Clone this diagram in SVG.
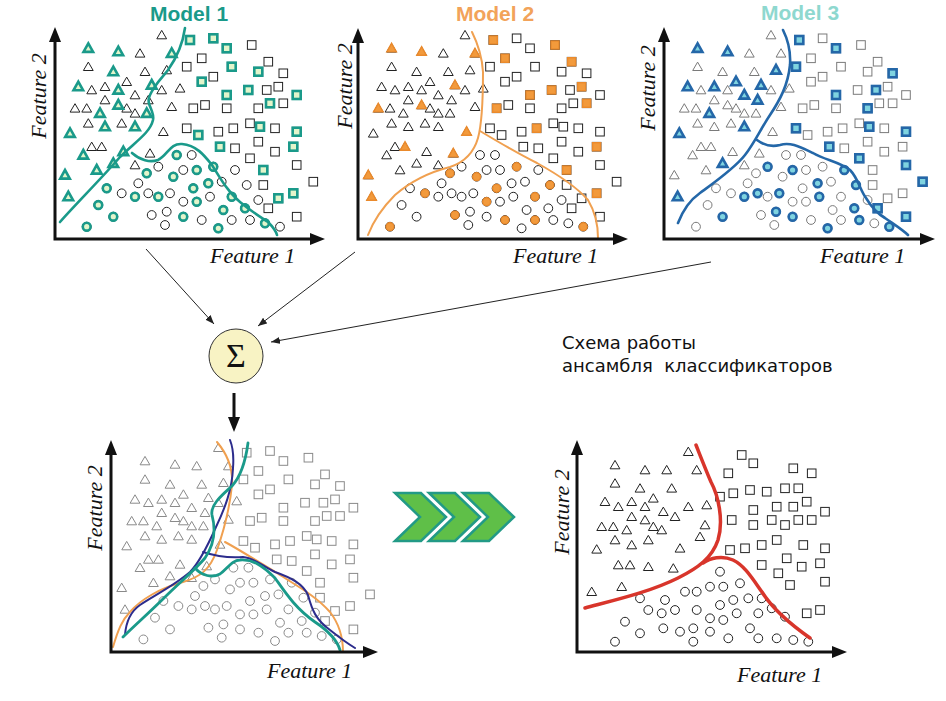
<svg xmlns="http://www.w3.org/2000/svg" width="946" height="701" viewBox="0 0 946 701">
<style>
.ax{fill:none;stroke:#111;stroke-width:3;marker-start:url(#ah);marker-end:url(#ah)}
.lbl{font-family:"Liberation Serif","Times New Roman",serif;font-style:italic;font-size:22px;fill:#111}
.ttl{font-family:"Liberation Sans",Arial,sans-serif;font-weight:bold;font-size:21px;text-anchor:middle}
.p{fill:none;stroke:#222;stroke-width:1}
.pg{fill:none;stroke:#8a8a8a;stroke-width:1}
.pl{fill:none;stroke:#7a7a7a;stroke-width:1}
.h1{fill:#e3f5cb;stroke:#1a9a8a;stroke-width:2.6}
.h2{fill:#f29a3c;stroke:#ea8a2c;stroke-width:1.4}
.h3{fill:#7fd4e0;stroke:#2467a8;stroke-width:2.6}
.cv{fill:none;stroke-linecap:round;stroke-linejoin:round}
.con{fill:none;stroke:#222;stroke-width:1;marker-end:url(#sm)}
.ru{font-family:"DejaVu Sans",Verdana,sans-serif;font-size:18px;fill:#111;white-space:pre}
.chev{fill:#5fbf48;stroke:#229a86;stroke-width:2.5;stroke-linejoin:miter}
</style>
<defs>
<marker id="ah" viewBox="0 0 15 12" refX="7" refY="6" markerWidth="15" markerHeight="12" markerUnits="userSpaceOnUse" orient="auto-start-reverse"><path d="M0,0L15,6L0,12Z" fill="#111"/></marker>
<marker id="sm" viewBox="0 0 9 7" refX="9" refY="3.5" markerWidth="9" markerHeight="7" markerUnits="userSpaceOnUse" orient="auto"><path d="M0,0L9,3.5L0,7Z" fill="#222"/></marker>
<path id="t" d="M0,-4.6L4.9,3.8H-4.9Z"/>
<rect id="s" x="-4.3" y="-4.3" width="8.6" height="8.6"/>
<circle id="c" r="4.4"/>
<path id="T" d="M0,-5L4.8,3.6H-4.8Z"/>
<rect id="S" x="-4" y="-4" width="8" height="8"/>
<circle id="C" r="3.9"/>
<g id="base">
<use href="#t" x="88.3" y="48.3"/><use href="#t" x="118.3" y="51.7"/><use href="#t" x="113.3" y="71.7"/><use href="#t" x="78.3" y="86.7"/><use href="#t" x="118.3" y="90"/><use href="#t" x="118.3" y="105"/><use href="#t" x="100" y="113.3"/><use href="#t" x="105" y="126.7"/><use href="#t" x="70" y="133.3"/><use href="#t" x="135" y="126.7"/><use href="#t" x="83.3" y="155"/><use href="#t" x="96.7" y="170"/><use href="#t" x="65" y="175"/><use href="#t" x="68.3" y="196.7"/><use href="#t" x="123.3" y="151.7"/><use href="#t" x="113.3" y="163.3"/><use href="#t" x="151.7" y="85"/><use href="#t" x="146.7" y="113.3"/><use href="#t" x="171.7" y="53.3"/><use href="#t" x="161.7" y="35"/><use href="#t" x="140" y="53.3"/><use href="#t" x="88.3" y="66.7"/><use href="#t" x="145" y="71.7"/><use href="#t" x="166.7" y="70"/><use href="#t" x="126.7" y="81.7"/><use href="#t" x="105" y="86.7"/><use href="#t" x="91.7" y="90"/><use href="#t" x="135" y="95"/><use href="#t" x="105" y="100"/><use href="#t" x="148.3" y="100"/><use href="#t" x="75" y="108.3"/><use href="#t" x="86.7" y="108.3"/><use href="#t" x="126.7" y="108.3"/><use href="#t" x="135" y="113.3"/><use href="#t" x="171.7" y="106.7"/><use href="#t" x="180" y="88.3"/><use href="#t" x="161.7" y="90"/><use href="#t" x="88.3" y="123.3"/><use href="#t" x="121.7" y="123.3"/><use href="#t" x="163.3" y="131.7"/><use href="#t" x="91.7" y="146.7"/><use href="#t" x="101.7" y="146.7"/><use href="#t" x="150" y="153.3"/><use href="#t" x="135" y="165"/>
<use href="#s" x="190" y="40"/><use href="#s" x="213.3" y="38.3"/><use href="#s" x="226.7" y="48.3"/><use href="#s" x="231.7" y="66.7"/><use href="#s" x="258.3" y="71.7"/><use href="#s" x="201.7" y="81.7"/><use href="#s" x="226.7" y="95"/><use href="#s" x="248.3" y="90"/><use href="#s" x="270" y="103.3"/><use href="#s" x="296.7" y="95"/><use href="#s" x="260" y="126.7"/><use href="#s" x="198.3" y="135"/><use href="#s" x="220" y="146.7"/><use href="#s" x="296.7" y="131.7"/><use href="#s" x="293.3" y="146.7"/><use href="#s" x="263.3" y="170"/><use href="#s" x="293.3" y="193.3"/><use href="#s" x="278.3" y="198.3"/><use href="#s" x="201.7" y="58.3"/><use href="#s" x="186.7" y="66.7"/><use href="#s" x="213.3" y="76.7"/><use href="#s" x="251.7" y="45"/><use href="#s" x="268.3" y="61.7"/><use href="#s" x="283.3" y="73.3"/><use href="#s" x="266.7" y="90"/><use href="#s" x="278.3" y="86.7"/><use href="#s" x="193.3" y="108.3"/><use href="#s" x="205" y="105"/><use href="#s" x="226.7" y="108.3"/><use href="#s" x="258.3" y="108.3"/><use href="#s" x="283.3" y="103.3"/><use href="#s" x="186.7" y="128.3"/><use href="#s" x="218.3" y="131.7"/><use href="#s" x="233.3" y="128.3"/><use href="#s" x="250" y="123.3"/><use href="#s" x="275" y="128.3"/><use href="#s" x="235" y="148.3"/><use href="#s" x="258.3" y="141.7"/><use href="#s" x="275" y="151.7"/><use href="#s" x="250" y="158.3"/><use href="#s" x="296.7" y="165"/><use href="#s" x="263.3" y="185"/><use href="#s" x="313.3" y="181.7"/><use href="#s" x="268.3" y="208.3"/><use href="#s" x="296.7" y="216.7"/>
<use href="#c" x="176.7" y="155"/><use href="#c" x="146.7" y="173.3"/><use href="#c" x="173.3" y="176.7"/><use href="#c" x="196.7" y="170"/><use href="#c" x="213.3" y="166.7"/><use href="#c" x="106.7" y="188.3"/><use href="#c" x="135" y="196.7"/><use href="#c" x="158.3" y="196.7"/><use href="#c" x="193.3" y="188.3"/><use href="#c" x="208.3" y="183.3"/><use href="#c" x="98.3" y="205"/><use href="#c" x="113.3" y="216.7"/><use href="#c" x="86.7" y="226.7"/><use href="#c" x="196.7" y="201.7"/><use href="#c" x="183.3" y="216.7"/><use href="#c" x="223.3" y="210"/><use href="#c" x="231.7" y="196.7"/><use href="#c" x="245" y="208.3"/><use href="#c" x="218.3" y="228.3"/><use href="#c" x="265" y="223.3"/><use href="#c" x="191.7" y="155"/><use href="#c" x="158.3" y="166.7"/><use href="#c" x="183.3" y="170"/><use href="#c" x="138.3" y="183.3"/><use href="#c" x="121.7" y="193.3"/><use href="#c" x="148.3" y="193.3"/><use href="#c" x="170" y="193.3"/><use href="#c" x="221.7" y="181.7"/><use href="#c" x="235" y="170"/><use href="#c" x="246.7" y="185"/><use href="#c" x="210" y="196.7"/><use href="#c" x="183.3" y="201.7"/><use href="#c" x="166.7" y="211.7"/><use href="#c" x="258.3" y="200"/><use href="#c" x="201.7" y="220"/><use href="#c" x="231.7" y="220"/><use href="#c" x="250" y="220"/><use href="#c" x="280" y="226.7"/><use href="#c" x="165" y="225"/><use href="#c" x="151.7" y="215"/>
</g>
</defs>
<rect width="946" height="701" fill="#fff"/>

<g id="model1">
<use href="#base" class="p"/>
<g class="h1">
<use href="#T" x="88.3" y="48.3"/><use href="#T" x="118.3" y="51.7"/><use href="#T" x="113.3" y="71.7"/><use href="#T" x="78.3" y="86.7"/><use href="#T" x="118.3" y="90"/><use href="#T" x="118.3" y="105"/><use href="#T" x="100" y="113.3"/><use href="#T" x="105" y="126.7"/><use href="#T" x="70" y="133.3"/><use href="#T" x="135" y="126.7"/><use href="#T" x="83.3" y="155"/><use href="#T" x="96.7" y="170"/><use href="#T" x="65" y="175"/><use href="#T" x="68.3" y="196.7"/><use href="#T" x="123.3" y="151.7"/><use href="#T" x="113.3" y="163.3"/><use href="#T" x="151.7" y="85"/><use href="#T" x="146.7" y="113.3"/><use href="#T" x="171.7" y="53.3"/>
<use href="#S" x="190" y="40"/><use href="#S" x="213.3" y="38.3"/><use href="#S" x="226.7" y="48.3"/><use href="#S" x="231.7" y="66.7"/><use href="#S" x="258.3" y="71.7"/><use href="#S" x="201.7" y="81.7"/><use href="#S" x="226.7" y="95"/><use href="#S" x="248.3" y="90"/><use href="#S" x="270" y="103.3"/><use href="#S" x="296.7" y="95"/><use href="#S" x="260" y="126.7"/><use href="#S" x="198.3" y="135"/><use href="#S" x="220" y="146.7"/><use href="#S" x="296.7" y="131.7"/><use href="#S" x="293.3" y="146.7"/><use href="#S" x="263.3" y="170"/><use href="#S" x="293.3" y="193.3"/><use href="#S" x="278.3" y="198.3"/>
<use href="#C" x="176.7" y="155"/><use href="#C" x="146.7" y="173.3"/><use href="#C" x="173.3" y="176.7"/><use href="#C" x="196.7" y="170"/><use href="#C" x="213.3" y="166.7"/><use href="#C" x="106.7" y="188.3"/><use href="#C" x="135" y="196.7"/><use href="#C" x="158.3" y="196.7"/><use href="#C" x="193.3" y="188.3"/><use href="#C" x="208.3" y="183.3"/><use href="#C" x="98.3" y="205"/><use href="#C" x="113.3" y="216.7"/><use href="#C" x="86.7" y="226.7"/><use href="#C" x="196.7" y="201.7"/><use href="#C" x="183.3" y="216.7"/><use href="#C" x="223.3" y="210"/><use href="#C" x="231.7" y="196.7"/><use href="#C" x="245" y="208.3"/><use href="#C" x="218.3" y="228.3"/><use href="#C" x="265" y="223.3"/>
</g>
<g class="cv" stroke="#1a9a8a" stroke-width="2.6">
<path d="M60,222 C72,208 100,180 120,157 C135,142 150,133 153,120 C155,110 145,105 150,95 C155,84 162,78 168,70 C178,56 183,42 185,28"/>
<path d="M132,153 C140,160 150,163 158,160 C168,155 170,143 182,144 C196,145 204,155 212,165 C220,178 228,192 240,202 C252,212 262,218 268,222 C273,227 276,231 277,235"/>
</g>
<path class="ax" d="M55,35 V239 H317"/>
<text class="ttl" x="189" y="21" fill="#1a9a8a">Model 1</text>
<text class="lbl" x="210" y="263">Feature 1</text>
<text class="lbl" text-anchor="middle" transform="translate(46,96) rotate(-90)">Feature 2</text>
</g>

<g id="model2">
<use href="#base" class="p" transform="translate(303.3,0)"/>
<g class="h2" transform="translate(303.3,0)">
<use href="#T" x="88.3" y="48.3"/><use href="#T" x="118.3" y="51.7"/><use href="#T" x="171.7" y="53.3"/><use href="#T" x="151.7" y="85"/><use href="#T" x="118.3" y="105"/><use href="#T" x="75" y="108.3"/><use href="#T" x="163.3" y="131.7"/><use href="#T" x="101.7" y="146.7"/><use href="#T" x="150" y="153.3"/><use href="#T" x="65" y="175"/><use href="#T" x="68.3" y="196.7"/>
<use href="#S" x="190" y="40"/><use href="#S" x="201.7" y="58.3"/><use href="#S" x="251.7" y="45"/><use href="#S" x="268.3" y="61.7"/><use href="#S" x="278.3" y="86.7"/><use href="#S" x="248.3" y="90"/><use href="#S" x="226.7" y="95"/><use href="#S" x="283.3" y="103.3"/><use href="#S" x="193.3" y="108.3"/><use href="#S" x="233.3" y="128.3"/><use href="#S" x="293.3" y="146.7"/><use href="#S" x="263.3" y="170"/><use href="#S" x="293.3" y="193.3"/>
<use href="#C" x="146.7" y="173.3"/><use href="#C" x="173.3" y="176.7"/><use href="#C" x="213.3" y="166.7"/><use href="#C" x="121.7" y="193.3"/><use href="#C" x="193.3" y="188.3"/><use href="#C" x="246.7" y="185"/><use href="#C" x="183.3" y="201.7"/><use href="#C" x="231.7" y="196.7"/><use href="#C" x="86.7" y="226.7"/><use href="#C" x="151.7" y="215"/><use href="#C" x="201.7" y="220"/><use href="#C" x="231.7" y="220"/><use href="#C" x="280" y="226.7"/>
</g>
<g class="cv" stroke="#f0a050" stroke-width="2">
<path d="M368,235 C373,222 380,210 395,195 C410,182 430,172 450,167 C465,162 474,152 478,138 C483,120 483,90 483,72 C482,55 477,42 472,32"/>
<path d="M480,131 C495,140 515,152 537,163 C555,173 575,185 588,200 C597,215 598,230 598,238"/>
</g>
<path class="ax" d="M358,36 V239 H620"/>
<text class="ttl" x="495" y="21" fill="#f2a35a">Model 2</text>
<text class="lbl" x="513" y="263">Feature 1</text>
<text class="lbl" text-anchor="middle" transform="translate(352,86) rotate(-90)">Feature 2</text>
</g>

<g id="model3">
<use href="#base" class="pl" transform="translate(609.3,0)"/>
<g class="h3" transform="translate(609.3,0)">
<use href="#T" x="88.3" y="48.3"/><use href="#T" x="118.3" y="51.7"/><use href="#T" x="166.7" y="70"/><use href="#T" x="78.3" y="86.7"/><use href="#T" x="105" y="86.7"/><use href="#T" x="126.7" y="81.7"/><use href="#T" x="151.7" y="85"/><use href="#T" x="135" y="95"/><use href="#T" x="148.3" y="100"/><use href="#T" x="100" y="113.3"/><use href="#T" x="135" y="126.7"/><use href="#T" x="70" y="133.3"/><use href="#T" x="113.3" y="163.3"/><use href="#T" x="68.3" y="196.7"/>
<use href="#S" x="190" y="40"/><use href="#S" x="226.7" y="48.3"/><use href="#S" x="186.7" y="66.7"/><use href="#S" x="283.3" y="73.3"/><use href="#S" x="266.7" y="90"/><use href="#S" x="226.7" y="95"/><use href="#S" x="258.3" y="108.3"/><use href="#S" x="260" y="126.7"/><use href="#S" x="186.7" y="128.3"/><use href="#S" x="296.7" y="131.7"/><use href="#S" x="220" y="146.7"/><use href="#S" x="250" y="158.3"/><use href="#S" x="296.7" y="165"/><use href="#S" x="313.3" y="181.7"/><use href="#S" x="268.3" y="208.3"/><use href="#S" x="296.7" y="216.7"/>
<use href="#C" x="158.3" y="166.7"/><use href="#C" x="183.3" y="170"/><use href="#C" x="135" y="196.7"/><use href="#C" x="148.3" y="193.3"/><use href="#C" x="170" y="193.3"/><use href="#C" x="208.3" y="183.3"/><use href="#C" x="235" y="170"/><use href="#C" x="246.7" y="185"/><use href="#C" x="210" y="196.7"/><use href="#C" x="113.3" y="216.7"/><use href="#C" x="166.7" y="211.7"/><use href="#C" x="183.3" y="216.7"/><use href="#C" x="245" y="208.3"/><use href="#C" x="250" y="220"/><use href="#C" x="218.3" y="228.3"/><use href="#C" x="280" y="226.7"/>
</g>
<g class="cv" stroke="#2467a8" stroke-width="2.6">
<path d="M678,223 C683,210 690,200 700,193 C715,182 735,168 745,155 C755,142 760,130 770,115 C780,100 788,85 790,65 C791,50 787,38 783,30"/>
<path d="M757,140 C765,146 772,147 780,145 C790,142 798,146 813,153 C825,160 840,162 850,170 C858,178 860,190 866,198 C872,208 878,214 885,218 C895,225 903,230 908,235"/>
</g>
<path class="ax" d="M664,35 V239 H927"/>
<text class="ttl" x="800" y="20" fill="#8ed8cf">Model 3</text>
<text class="lbl" x="820" y="263">Feature 1</text>
<text class="lbl" text-anchor="middle" transform="translate(655,88) rotate(-90)">Feature 2</text>
</g>

<g id="sum">
<circle cx="236" cy="356" r="27" fill="#f8f3c4" stroke="#333" stroke-width="1"/>
<text x="236" y="367" text-anchor="middle" font-family="'Liberation Serif','Times New Roman',serif" font-size="34" fill="#111">Σ</text>
</g>

<g id="ensemble">
<use href="#base" class="pg" transform="translate(56.7,412.7)"/>
<g class="cv" stroke-width="2">
<path stroke="#f0a050" d="M113,647 C118,630 122,620 130,612 C140,600 160,588 183,582 C200,577 210,570 217,550 C224,530 230,505 232,485 C233,470 228,455 217,442"/>
<path stroke="#f0a050" d="M225,542 C240,550 255,560 277,573 C295,585 315,595 330,612 C340,625 343,640 343,652"/>
<path stroke="#2c2c8c" d="M125,635 C126,622 130,612 140,605 C155,595 175,585 190,572 C200,562 208,545 216,527 C225,508 232,490 233,468 C234,455 232,445 230,440"/>
<path stroke="#2c2c8c" d="M203,552 C215,556 230,558 243,557 C255,558 262,566 275,572 C292,578 303,584 308,595 C312,610 316,620 330,630 C340,638 350,645 355,648"/>
<path stroke="#1a9a8a" stroke-width="2.8" d="M123,637 C135,625 150,612 165,597 C180,582 195,570 205,558 C214,545 216,530 212,515 C210,505 222,495 232,486 C242,475 246,458 248,443"/>
<path stroke="#1a9a8a" stroke-width="2.8" d="M195,568 C202,576 212,578 220,574 C228,568 232,560 240,560 C252,559 262,565 275,578 C285,592 295,608 315,622 C330,632 337,640 340,650"/>
</g>
<path class="ax" d="M111,448 V652 H370"/>
<text class="lbl" x="267" y="678">Feature 1</text>
<text class="lbl" text-anchor="middle" transform="translate(102,508) rotate(-90)">Feature 2</text>
</g>

<g id="chevrons">
<polygon class="chev" points="395,493 421,493 446,517 421,541 395,541 420,517"/>
<polygon class="chev" points="429,493 455,493 480,517 455,541 429,541 454,517"/>
<polygon class="chev" points="463,493 489,493 514,517 489,541 463,541 488,517"/>
</g>

<g id="result">
<g class="p" stroke="#333">
<use href="#t" x="688.3" y="451.7"/><use href="#t" x="615" y="465"/><use href="#t" x="645" y="470"/><use href="#t" x="666.7" y="470"/><use href="#t" x="696.7" y="470"/><use href="#t" x="615" y="483.3"/><use href="#t" x="640" y="488.3"/><use href="#t" x="671.7" y="488.3"/><use href="#t" x="653.3" y="498.3"/><use href="#t" x="605" y="501.7"/><use href="#t" x="618.3" y="506.7"/><use href="#t" x="631.7" y="501.7"/><use href="#t" x="645" y="506.7"/><use href="#t" x="663.3" y="511.7"/><use href="#t" x="688.3" y="506.7"/><use href="#t" x="706.7" y="505"/><use href="#t" x="631.7" y="516.7"/><use href="#t" x="675" y="516.7"/><use href="#t" x="601.7" y="526.7"/><use href="#t" x="613.3" y="526.7"/><use href="#t" x="626.7" y="530"/><use href="#t" x="645" y="520"/><use href="#t" x="653.3" y="526.7"/><use href="#t" x="661.7" y="530"/><use href="#t" x="705" y="525"/><use href="#t" x="615" y="540"/><use href="#t" x="631.7" y="545"/><use href="#t" x="648.3" y="540"/><use href="#t" x="700" y="536.7"/><use href="#t" x="596.7" y="549.3"/><use href="#t" x="680" y="548.3"/><use href="#t" x="618.3" y="565"/><use href="#t" x="630" y="565"/><use href="#t" x="648.3" y="566.7"/><use href="#t" x="673.3" y="568.3"/><use href="#t" x="591.7" y="591.7"/><use href="#t" x="621.7" y="586.7"/>
<use href="#s" x="741.7" y="455"/><use href="#s" x="753.3" y="463.3"/><use href="#s" x="728.3" y="473.3"/><use href="#s" x="793.3" y="468.3"/><use href="#s" x="811.7" y="473.3"/><use href="#s" x="720" y="496.7"/><use href="#s" x="733.3" y="493.3"/><use href="#s" x="750" y="490"/><use href="#s" x="766.7" y="491.7"/><use href="#s" x="785" y="488.3"/><use href="#s" x="798.3" y="488.3"/><use href="#s" x="776.7" y="506.7"/><use href="#s" x="793.3" y="506.7"/><use href="#s" x="806.7" y="501.7"/><use href="#s" x="825" y="511.7"/><use href="#s" x="753.3" y="510"/><use href="#s" x="731.7" y="520"/><use href="#s" x="753.3" y="525"/><use href="#s" x="771.7" y="520"/><use href="#s" x="785" y="525"/><use href="#s" x="798.3" y="520"/><use href="#s" x="811.7" y="520"/><use href="#s" x="730" y="550"/><use href="#s" x="745" y="548.3"/><use href="#s" x="761.7" y="545"/><use href="#s" x="776.7" y="540"/><use href="#s" x="803.3" y="545"/><use href="#s" x="825" y="548.3"/><use href="#s" x="761.7" y="565"/><use href="#s" x="778.3" y="573.3"/><use href="#s" x="786.7" y="558.3"/><use href="#s" x="801.7" y="566.7"/><use href="#s" x="820" y="563.3"/><use href="#s" x="790" y="585"/><use href="#s" x="825" y="581.7"/><use href="#s" x="806.7" y="613.3"/><use href="#s" x="820" y="610"/>
<use href="#c" x="720" y="571.7"/><use href="#c" x="685" y="591.7"/><use href="#c" x="696.7" y="591.7"/><use href="#c" x="710" y="586.7"/><use href="#c" x="723.3" y="586.7"/><use href="#c" x="740" y="583.3"/><use href="#c" x="640" y="598.3"/><use href="#c" x="665" y="600"/><use href="#c" x="648.3" y="610"/><use href="#c" x="661.7" y="613.3"/><use href="#c" x="675" y="610"/><use href="#c" x="696.7" y="610"/><use href="#c" x="720" y="605"/><use href="#c" x="733.3" y="600"/><use href="#c" x="748.3" y="598.3"/><use href="#c" x="761.7" y="598.3"/><use href="#c" x="625" y="621.7"/><use href="#c" x="663.3" y="628.3"/><use href="#c" x="680" y="631.7"/><use href="#c" x="693.3" y="628.3"/><use href="#c" x="710" y="618.3"/><use href="#c" x="723.3" y="620"/><use href="#c" x="736.7" y="613.3"/><use href="#c" x="758.3" y="613.3"/><use href="#c" x="771.7" y="608.3"/><use href="#c" x="750" y="628.3"/><use href="#c" x="785" y="616.7"/><use href="#c" x="615" y="641.7"/><use href="#c" x="640" y="633.3"/><use href="#c" x="710" y="631.7"/><use href="#c" x="693.3" y="641.7"/><use href="#c" x="728.3" y="638.3"/><use href="#c" x="758.3" y="638.3"/><use href="#c" x="776.7" y="638.3"/><use href="#c" x="793.3" y="640"/><use href="#c" x="808.3" y="641.7"/>
</g>
<g class="cv" stroke="#d8352b" stroke-width="3.5">
<path d="M585,608 C615,600 650,592 678,578 C698,568 712,558 718,540 C724,520 718,495 711,482 C705,468 700,455 696,445"/>
<path d="M703,563 C710,558 722,555 733,560 C745,566 752,578 762,592 C772,608 790,624 810,638"/>
</g>
<path class="ax" d="M577,448 V652 H839"/>
<text class="lbl" x="737" y="682">Feature 1</text>
<text class="lbl" text-anchor="middle" transform="translate(569,512) rotate(-90)">Feature 2</text>
</g>

<g id="caption">
<text class="ru" x="562" y="349" xml:space="preserve">Схема работы</text>
<text class="ru" x="562" y="372" xml:space="preserve">ансамбля  классификаторов</text>
</g>

<g id="connectors">
<line class="con" x1="146" y1="249" x2="214" y2="324"/>
<line class="con" x1="355" y1="252" x2="258" y2="326"/>
<line class="con" x1="711" y1="262" x2="271" y2="342"/>
<line x1="234" y1="393" x2="234" y2="424" stroke="#111" stroke-width="3" marker-end="url(#ah)"/>
</g>
</svg>
